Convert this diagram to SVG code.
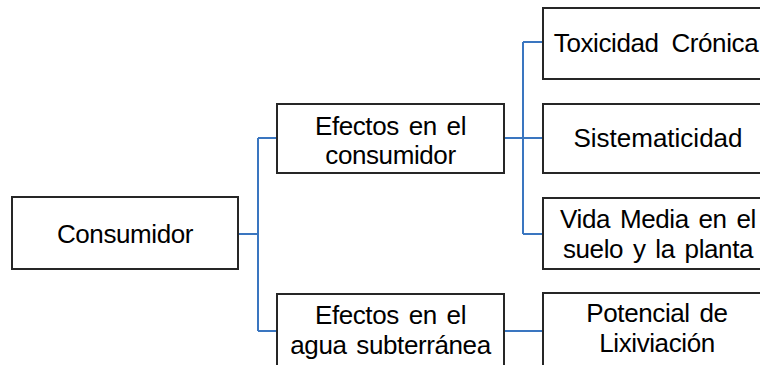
<svg xmlns="http://www.w3.org/2000/svg" width="760" height="365" viewBox="0 0 760 365">
<style>
.box{fill:#fff;stroke:#262626;stroke-width:2}
.t{font-family:"Liberation Sans",Arial,sans-serif;font-size:26px;letter-spacing:-0.4px;fill:#000;text-anchor:middle;word-spacing:3px}
.c{fill:none;stroke:#3a76c0;stroke-width:2}
</style>
<rect width="760" height="365" fill="#fff"/>
<g id="connectors">
<path class="c" d="M238 234H258M258 138V331M258 138H277M258 331H277"/>
<path class="c" d="M504 138H543M523 42V234M523 42H543M523 234H543"/>
<path class="c" d="M504 331H543"/>
</g>
<g id="consumidor">
<rect class="box" x="12" y="197" width="226" height="72"/>
<text class="t" x="125" y="243">Consumidor</text>
</g>
<g id="efectos-consumidor">
<rect class="box" x="277" y="104" width="227" height="69"/>
<text class="t" x="390.5" y="135">Efectos en el</text>
<text class="t" x="390.5" y="164">consumidor</text>
</g>
<g id="efectos-agua">
<rect class="box" x="277" y="294" width="227" height="80"/>
<text class="t" x="390.5" y="324">Efectos en el</text>
<text class="t" x="390.5" y="354">agua subterránea</text>
</g>
<g id="toxicidad">
<rect class="box" x="543" y="8" width="230" height="71"/>
<text class="t" x="656" y="52" style="word-spacing:6px">Toxicidad Crónica</text>
</g>
<g id="sistematicidad">
<rect class="box" x="543" y="104" width="230" height="69"/>
<text class="t" x="658" y="147" style="letter-spacing:0">Sistematicidad</text>
</g>
<g id="vida-media">
<rect class="box" x="543" y="198" width="230" height="71"/>
<text class="t" x="658" y="228">Vida Media en el</text>
<text class="t" x="658" y="258">suelo y la planta</text>
</g>
<g id="potencial">
<rect class="box" x="543" y="293" width="230" height="80"/>
<text class="t" x="657" y="322">Potencial de</text>
<text class="t" x="657" y="352">Lixiviación</text>
</g>
</svg>
